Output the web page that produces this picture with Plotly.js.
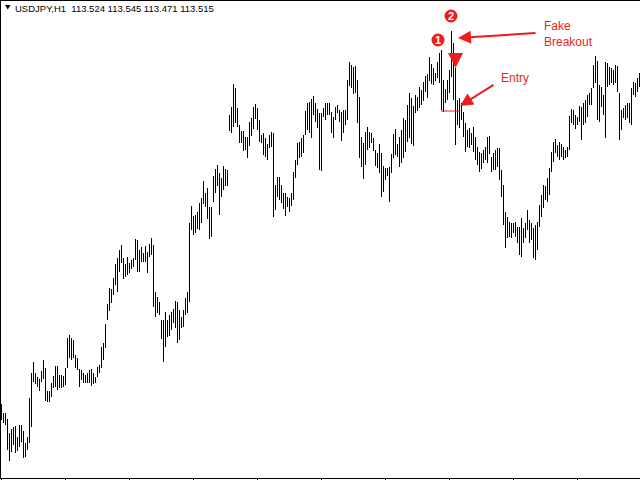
<!DOCTYPE html>
<html><head><meta charset="utf-8">
<script src="https://cdn.plot.ly/plotly-3.0.1.min.js"></script>
<style>html,body{margin:0;padding:0;background:#fff}#chart{width:640px;height:480px}</style>
</head><body><div id="chart"></div>
<script>
// ---- data (hourly bars) ----
const symbol = "USDJPY,H1";
const headerValues = [113.524, 113.545, 113.471, 113.515];
const highs = [
110.36,110.27,110.27,110.21,110.07,110.11,110.13,110.14,110.03,110.15,
110.15,110.09,109.97,110.03,110.42,110.67,110.78,110.67,110.63,110.61,
110.69,110.80,110.72,110.49,110.49,110.57,110.64,110.74,110.74,110.65,
110.65,110.64,110.72,111.02,111.05,111.02,111.00,110.85,110.82,110.71,
110.70,110.67,110.65,110.67,110.70,110.71,110.67,110.63,110.73,110.75,
110.93,110.97,111.16,111.36,111.52,111.51,111.62,111.76,111.82,111.90,
111.95,111.82,111.76,111.83,111.77,111.80,111.82,112.01,112.00,111.90,
111.93,111.87,111.94,111.88,111.96,112.02,111.95,111.48,111.43,111.38,
111.20,111.20,111.28,111.20,111.25,111.28,111.31,111.39,111.38,111.30,
111.23,111.30,111.42,111.48,112.17,112.34,112.24,112.25,112.28,112.37,
112.42,112.59,112.47,112.52,112.33,112.33,112.64,112.71,112.75,112.67,
112.62,112.74,112.71,112.70,113.25,113.33,113.56,113.52,113.32,113.15,
113.09,113.09,113.03,113.03,113.18,113.22,113.33,113.36,113.32,113.20,
113.05,113.07,113.02,112.96,113.05,113.08,113.07,112.55,112.63,112.63,
112.55,112.47,112.47,112.43,112.42,112.47,112.68,112.80,112.97,112.98,
113.02,113.05,113.29,113.37,113.38,113.41,113.44,113.37,113.31,113.27,
113.27,113.32,113.37,113.37,113.37,113.28,113.23,113.33,113.35,113.30,
113.28,113.30,113.30,113.60,113.78,113.75,113.73,113.74,113.60,113.43,
113.03,112.97,113.08,113.13,113.08,113.07,113.02,112.90,112.87,112.96,
112.87,112.74,112.72,112.72,112.73,112.86,113.06,113.11,112.96,113.03,
113.10,113.22,113.20,113.35,113.47,113.42,113.34,113.45,113.43,113.53,
113.50,113.58,113.64,113.66,113.83,113.76,113.72,113.67,113.78,113.87,
113.90,113.60,113.51,113.60,113.70,114.09,113.97,113.72,113.40,113.42,
113.37,113.28,113.17,113.10,113.12,113.07,113.13,113.03,112.93,112.88,
112.87,112.90,112.93,113.03,113.04,112.83,112.87,112.90,112.92,112.92,
112.70,112.55,112.28,112.23,112.18,112.17,112.17,112.18,112.13,112.13,
112.22,112.12,112.17,112.30,112.20,112.17,112.12,112.15,112.18,112.35,
112.45,112.55,112.54,112.62,112.72,112.88,112.98,113.01,112.95,112.98,
112.96,112.93,112.90,112.93,113.24,113.31,113.30,113.25,113.23,113.34,
113.33,113.37,113.40,113.45,113.47,113.52,113.75,113.84,113.79,113.55,
113.53,113.45,113.78,113.77,113.73,113.72,113.70,113.75,113.74,113.47,
113.30,113.32,113.35,113.37,113.37,113.52,113.58,113.57,113.62,113.67];
const lows = [
110.20,110.17,110.15,109.90,109.79,109.88,109.95,109.87,109.89,109.93,
109.98,109.82,109.83,109.90,109.97,110.13,110.58,110.56,110.53,110.49,
110.58,110.61,110.39,110.38,110.38,110.43,110.52,110.53,110.50,110.52,
110.52,110.53,110.55,110.72,110.82,110.80,110.82,110.72,110.70,110.53,
110.60,110.57,110.57,110.57,110.57,110.54,110.56,110.57,110.63,110.67,
110.72,110.80,110.92,111.20,111.29,111.37,111.45,111.55,111.48,111.68,
111.77,111.61,111.63,111.65,111.67,111.71,111.73,111.80,111.68,111.68,
111.78,111.78,111.78,111.67,111.83,111.85,111.33,111.23,111.27,111.25,
111.01,110.78,110.93,111.03,111.04,111.10,111.17,111.12,110.97,111.00,
111.12,111.13,111.25,111.27,111.38,112.10,112.05,112.07,112.11,112.10,
112.17,112.36,112.33,112.21,112.01,112.03,112.38,112.47,112.54,112.25,
112.43,112.50,112.54,112.54,113.09,113.07,113.13,113.17,113.13,112.97,
112.97,112.89,112.90,112.82,112.94,113.04,113.11,113.21,113.10,112.98,
112.97,112.85,112.83,112.80,112.92,112.93,112.23,112.30,112.43,112.40,
112.37,112.31,112.24,112.33,112.28,112.34,112.40,112.62,112.75,112.82,
112.83,112.87,113.05,113.10,113.07,113.02,113.25,113.18,113.12,112.70,
112.69,113.23,113.20,113.25,113.25,113.07,113.02,113.20,113.27,113.18,
112.99,113.07,113.15,113.20,113.54,113.52,113.46,113.47,113.17,112.82,
112.73,112.61,112.75,112.90,112.92,112.97,112.89,112.74,112.72,112.67,
112.43,112.48,112.60,112.64,112.38,112.67,112.82,112.85,112.83,112.73,
112.77,112.82,112.88,112.98,113.02,112.96,112.94,113.27,113.29,113.32,
113.35,113.39,113.48,113.42,113.59,113.56,113.55,113.59,113.62,113.57,
113.30,113.28,113.37,113.40,113.47,113.63,113.40,112.95,113.15,113.12,
113.20,113.03,112.88,112.93,112.92,112.95,112.88,112.80,112.75,112.68,
112.71,112.77,112.80,112.77,112.86,112.68,112.70,112.70,112.73,112.60,
112.43,112.15,111.92,112.02,112.03,112.02,112.07,112.03,111.97,111.85,
111.83,111.97,112.02,112.10,111.97,112.00,111.82,111.80,111.90,112.13,
112.23,112.32,112.40,112.38,112.45,112.68,112.78,112.87,112.83,112.80,
112.83,112.80,112.82,112.83,112.90,113.17,113.15,113.11,113.15,113.18,
113.00,113.15,113.17,113.23,113.35,113.35,113.52,113.57,113.20,113.18,
113.33,113.25,113.02,113.53,113.55,113.57,113.55,113.57,113.48,113.00,
113.10,113.22,113.20,113.22,113.17,113.15,113.45,113.43,113.48,113.53];
const timeTickBars = [0,32,64,96,128,160,192,224,256,288];
// annotated events (bar index, price level)
const breakoutBar = 225, breakoutHigh = highs[225];
const entryLevel = 113.29;

// ---- drawing ----
const RED = '#ee1c1c';
const FONT = 'Liberation Sans, Arial, sans-serif';
const barIdx = highs.map((_, i) => i);
const px2x = p => (p - 1) / 639;
const px2y = p => 1 - (p - 1) / 477;

const trace = {
  type: 'bar', x: barIdx, base: lows, y: highs.map((h, i) => h - lows[i]),
  width: 0.5, marker: {color: '#000', line: {width: 0}}, hoverinfo: 'skip'
};

const tri = `M ${px2x(5)} ${px2y(5)} L ${px2x(10.5)} ${px2y(5)} L ${px2x(7.75)} ${px2y(9.5)} Z`;

const circ = (cx, cy) => ({type: 'circle', xref: 'x', yref: 'y', xsizemode: 'pixel', ysizemode: 'pixel',
  xanchor: cx, yanchor: cy, x0: -6.5, x1: 6.5, y0: -6.5, y1: 6.5, fillcolor: RED, line: {width: 0}});

const layout = {
  width: 640, height: 480, margin: {l: 1, r: 0, t: 1, b: 2, pad: 0},
  paper_bgcolor: '#fff', plot_bgcolor: '#fff', showlegend: false,
  xaxis: {range: [-0.25, 319.25], showgrid: false, zeroline: false, showline: true, linecolor: '#000',
    linewidth: 1, mirror: true, ticks: 'outside', ticklen: 3, tickwidth: 1, tickcolor: '#000',
    tickvals: timeTickBars, showticklabels: false},
  yaxis: {range: [109.62, 114.39], showgrid: false, zeroline: false, showline: true, linecolor: '#000',
    linewidth: 1, ticks: '', showticklabels: false},
  shapes: [
    {type: 'path', xref: 'paper', yref: 'paper', path: tri, fillcolor: '#000', line: {width: 0}},
    {type: 'line', xref: 'x', yref: 'y', x0: 219.75, x1: 229, y0: entryLevel, y1: entryLevel, line: {color: RED, width: 1}},
    circ(218.25, 114.00),
    circ(breakoutBar - 0.25, breakoutHigh + 0.15)
  ],
  annotations: [
    {xref: 'paper', yref: 'paper', x: px2x(13), y: px2y(8.5), xanchor: 'left', yanchor: 'middle', showarrow: false,
     text: symbol + '\u00a0\u00a0' + headerValues.map(v => v.toFixed(3)).join(' '),
     font: {family: FONT, size: 9.5, color: '#000'}},
    {x: 218.25, y: 114.00, text: '<b>1</b>', showarrow: false, font: {family: FONT, size: 11, color: '#fff'}},
    {x: breakoutBar - 0.25, y: breakoutHigh + 0.15, text: '<b>2</b>', showarrow: false, font: {family: FONT, size: 11, color: '#fff'}},
    {x: 227, y: 113.72, ax: 0, ay: -15, text: '', showarrow: true, arrowhead: 2, arrowsize: 1, arrowwidth: 3, arrowcolor: RED, standoff: 0},
    {x: 228.25, y: 114.02, ax: 79, ay: -5, text: '', showarrow: true, arrowhead: 2, arrowsize: 1.3, arrowwidth: 2, arrowcolor: RED, standoff: 0},
    {x: 229.25, y: 113.34, ax: 35, ay: -22, text: '', showarrow: true, arrowhead: 2, arrowsize: 1.3, arrowwidth: 2, arrowcolor: RED, standoff: 0},
    {x: 270.25, y: 114.065, xanchor: 'left', yanchor: 'middle', align: 'left', showarrow: false,
     text: 'Fake<br>Breakout', font: {family: FONT, size: 12, color: RED}},
    {x: 248.75, y: 113.62, xanchor: 'left', yanchor: 'middle', showarrow: false,
     text: 'Entry', font: {family: FONT, size: 12, color: RED}}
  ]
};

Plotly.newPlot('chart', [trace], layout, {staticPlot: true, displayModeBar: false});
</script></body></html>
